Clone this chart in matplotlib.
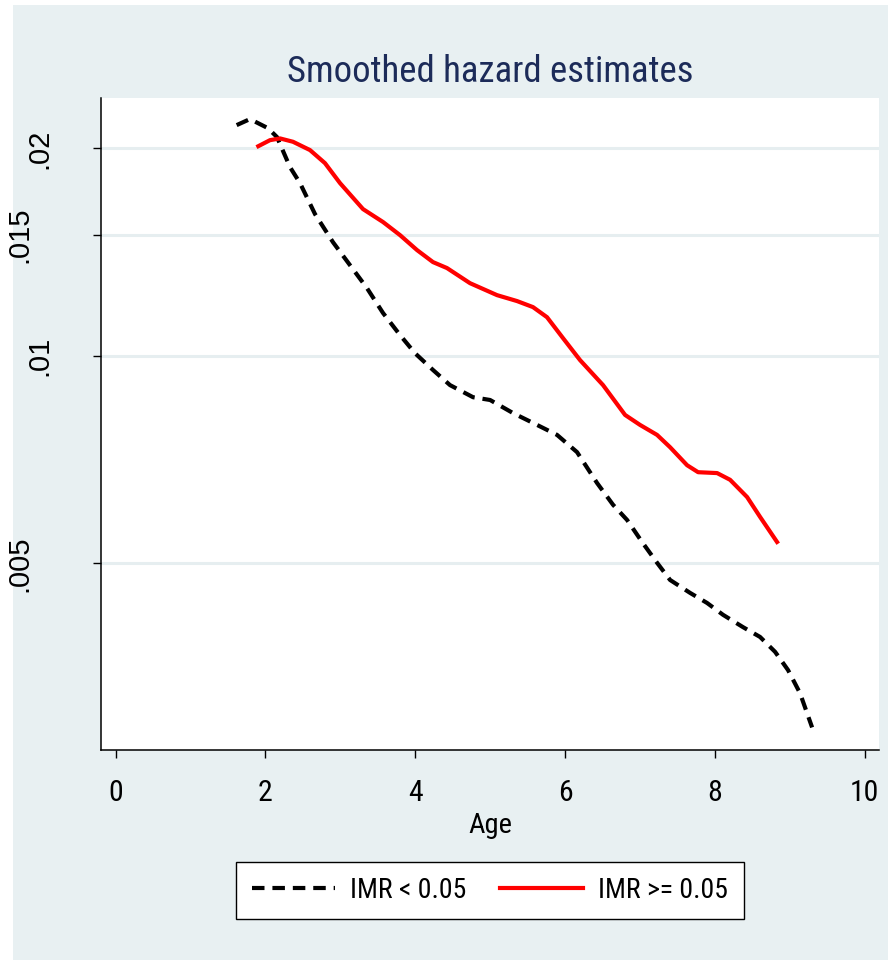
import matplotlib
matplotlib.use('Agg')
import matplotlib.pyplot as plt
from matplotlib import transforms
from matplotlib.patches import Rectangle
from matplotlib.ticker import NullLocator

# smoothed hazard, IMR < 0.05 (dashed black)
age_low = [1.615, 1.793, 2.033, 2.154, 2.327, 2.461, 2.661, 2.901, 3.128, 3.355,
           3.569, 3.796, 3.996, 4.236, 4.463, 4.771, 4.998, 5.305, 5.625, 5.892,
           6.159, 6.426, 6.640, 6.827, 7.027, 7.227, 7.401, 7.668, 7.895, 8.108,
           8.375, 8.602, 8.803, 8.976, 9.136, 9.297]
haz_low = [0.02162, 0.02206, 0.02140, 0.02077, 0.01879, 0.01781, 0.01606, 0.01462, 0.01354, 0.01254,
           0.01154, 0.01072, 0.01009, 0.00954, 0.00907, 0.00871, 0.00863, 0.00826, 0.00794, 0.00768,
           0.00725, 0.00654, 0.00608, 0.00578, 0.00537, 0.00501, 0.00473, 0.00453, 0.00438, 0.00421,
           0.00404, 0.00391, 0.00372, 0.00350, 0.00324, 0.00289]

# smoothed hazard, IMR >= 0.05 (solid red)
age_high = [1.904, 2.060, 2.194, 2.367, 2.594, 2.794, 2.995, 3.302, 3.569, 3.796,
            4.023, 4.236, 4.423, 4.730, 5.091, 5.358, 5.571, 5.758, 5.972, 6.199,
            6.506, 6.800, 7.000, 7.227, 7.401, 7.628, 7.775, 8.029, 8.202, 8.429,
            8.602, 8.829]
haz_high = [0.02015, 0.02056, 0.02068, 0.02045, 0.01989, 0.01904, 0.01781, 0.01633, 0.01564, 0.01497,
            0.01424, 0.01368, 0.01341, 0.01275, 0.01225, 0.01201, 0.01177, 0.01138, 0.01061, 0.00986,
            0.00907, 0.00821, 0.00794, 0.00768, 0.00737, 0.00694, 0.00678, 0.00676, 0.00661, 0.00624,
            0.00584, 0.00537]

xticks = [0, 2, 4, 6, 8, 10]
yticks = [0.005, 0.01, 0.015, 0.02]
ylabels = ['.005', '.01', '.015', '.02']

W, H = 888, 960
BG = '#E8F0F2'
NARROW = ['Roboto Condensed', 'Liberation Sans', 'DejaVu Sans']
REG = ['Liberation Sans', 'DejaVu Sans']

fig = plt.figure(figsize=(W / 100, H / 100), dpi=100, facecolor='white')
fig.patches.append(Rectangle((13 / W, 0), 1, 1 - 5 / H, transform=fig.transFigure,
                             facecolor=BG, edgecolor='none', zorder=-10))

ax = fig.add_axes([101 / W, 210 / H, 778 / W, 652 / H])
ax.set_facecolor('white')

ax.plot(age_low, haz_low, color='black', lw=3.0, ls=(0, (3.0, 1.9)), label='IMR < 0.05')
ax.plot(age_high, haz_high, color='#FF0000', lw=3.0, label='IMR >= 0.05')

ax.set_yscale('log')
ax.set_xlim(-0.196, 10.19)
ax.set_ylim(0.00268, 0.02367)
ax.yaxis.set_minor_locator(NullLocator())
ax.set_yticks(yticks)
ax.set_yticklabels([])
ax.set_xticks(xticks)
ax.set_xticklabels([str(t) for t in xticks], family=NARROW, fontsize=21.5)

for yv in yticks:
    ax.axhline(yv, color='#E6EEF0', lw=2.2, zorder=0)

for s in ['top', 'right']:
    ax.spines[s].set_visible(False)
for s in ['left', 'bottom']:
    ax.spines[s].set_linewidth(1.1)
ax.tick_params(axis='both', direction='out', length=5.8, width=1.0, color='black')
ax.tick_params(axis='x', pad=15)

# staggered y labels, rotated like Stata
tr = transforms.blended_transform_factory(fig.transFigure, ax.transData)
for yv, lab in zip(yticks, ylabels):
    xr = 53 if lab in ('.02', '.01') else 33.5
    ax.text(xr / W, yv, lab, transform=tr, rotation=90, ha='right', va='center',
            family=REG, fontsize=21)

fig.text(490 / W, 1 - 82 / H, 'Smoothed hazard estimates', ha='center', va='baseline',
         family=NARROW, fontsize=26.5, color='#1C2B59')
fig.text(490 / W, 1 - 833 / H, 'Age', ha='center', va='baseline',
         family=NARROW, fontsize=20.5)

leg = fig.legend(loc='center', bbox_to_anchor=(490 / W, 1 - 890.5 / H), ncol=2,
                 prop={'family': NARROW, 'size': 20}, handlelength=3.0,
                 handletextpad=0.54, columnspacing=1.22, borderpad=0.55,
                 fancybox=False, frameon=True, framealpha=1)
leg.get_frame().set_edgecolor('black')
leg.get_frame().set_linewidth(1.0)

fig.savefig('out.png', dpi=100, facecolor='white')
